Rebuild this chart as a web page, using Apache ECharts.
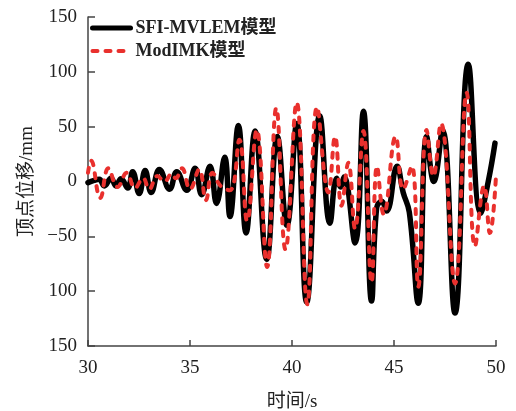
<!DOCTYPE html>
<html>
<head>
    <meta charset="utf-8">
    <title>顶点位移时程</title>
    <script src="https://cdn.jsdelivr.net/npm/echarts@6/dist/echarts.min.js"></script>
    <style>
        html, body { margin: 0; padding: 0; background: #fff; }
        #chart1 { width: 516px; height: 411px; }
    </style>
</head>
<body>
<div id="chart1"></div>
<script type="text/javascript">
    // 时间 (s) 与 顶点位移 (mm)，从原图读取的峰谷点
    let sfiTime = [30.0, 30.3, 30.55, 30.8, 31.13, 31.37, 31.62, 31.95, 32.19, 32.51, 32.8, 33.1, 33.5, 34.0, 34.35, 34.84,
        35.25, 35.57, 35.98, 36.3, 36.7, 36.96, 37.37, 37.75, 38.19, 38.76, 39.28, 39.75, 40.23, 40.72, 41.36, 41.86,
        42.19, 42.38, 42.55, 43.09, 43.5, 43.9, 44.15, 44.4, 44.64, 45.15, 45.45, 45.75, 46.19, 46.6, 46.95, 47.38,
        47.99, 48.64, 49.25, 49.62, 49.95];
    let sfiDisp = [-1, 1, 2, -4, 3, -4, 2.5, -6, 9, -11, 10, -10, 11, -7, 9, -8,
        12, -12, 14, -20, 22, -32, 51, -47, 46, -71, 41, -40, 53, -110, 60, -38,
        3, -5, 4, -56, 64, -109, -24, -18, -27, 14, -10, -28, -111, 41, 0, 47,
        -120, 107, -29, 0, 35];

    let modTime = [30.0, 30.15, 30.6, 31.0, 31.45, 31.9, 32.3, 32.7, 33.0, 33.4, 33.75, 34.1, 34.3, 34.6, 35.0, 35.45,
        35.78, 36.1, 36.5, 36.96, 37.42, 37.8, 38.27, 38.78, 39.23, 39.68, 40.23, 40.75, 41.23, 41.78, 42.11, 42.43,
        42.76, 43.09, 43.5, 43.9, 44.17, 44.5, 45.08, 45.45, 45.87, 46.19, 46.6, 46.93, 47.3, 47.99, 48.56, 48.97,
        49.42, 49.7, 50.0];
    let modDisp = [8, 19, -15, 12, -5, 8, -6, 3, -7, 5, 0, 7, 3, 12, -7, 11,
        -17, 8, -4, -8, 38, -36, 47, -78, 67, -62, 72, -112, 68, -10, 41, -22,
        17, -43, 46, -92, 14, -30, 41, -7, 14, -96, 47, 5, 53, -93, 81, -59,
        -4, -47, 5];

    let xTicks = [30, 35, 40, 45, 50];
    let yTickLabels = {'150': '150', '100': '100', '50': '50', '0': '0', '-50': '−50', '-100': '100', '-150': '150'};

    let serif = "'Liberation Serif', 'Times New Roman', 'Noto Sans CJK SC', serif";

    function pairs(t, v) {
        return t.map(function (x, i) { return [x, v[i]]; });
    }

    let myChart1 = echarts.init(document.getElementById('chart1'));
    myChart1.setOption({
        animation: false,
        grid: {left: 88, right: 20, top: 17, bottom: 65, containLabel: false, outerBoundsMode: 'none'},
        legend: {
            orient: 'vertical',
            left: 90,
            top: 18,
            padding: 0,
            itemWidth: 38,
            itemHeight: 14,
            itemGap: 3,
            itemStyle: {opacity: 0},
            textStyle: {fontFamily: serif, fontSize: 18, fontWeight: 'bold', color: '#222', lineHeight: 20},
            data: [
                {name: 'SFI-MVLEM模型', lineStyle: {width: 5}},
                {name: 'ModIMK模型', lineStyle: {width: 4}}
            ]
        },
        xAxis: {
            type: 'value',
            min: xTicks[0],
            max: xTicks[xTicks.length - 1],
            interval: 5,
            name: '时间/s',
            nameLocation: 'middle',
            nameGap: 47,
            nameTextStyle: {fontFamily: serif, fontSize: 19, color: '#222'},
            axisLine: {onZero: false, lineStyle: {color: '#444', width: 1.5}},
            axisTick: {inside: true, length: 6, lineStyle: {color: '#444', width: 1.5}},
            axisLabel: {fontFamily: serif, fontSize: 19, color: '#222', margin: 13},
            splitLine: {show: false}
        },
        yAxis: {
            type: 'value',
            min: -150,
            max: 150,
            interval: 50,
            name: '顶点位移/mm',
            nameLocation: 'middle',
            nameGap: 50,
            nameTextStyle: {fontFamily: serif, fontSize: 19, color: '#222'},
            axisLine: {show: true, onZero: false, lineStyle: {color: '#444', width: 1.5}},
            axisTick: {show: true, inside: true, length: 7, lineStyle: {color: '#444', width: 1.5}},
            axisLabel: {
                fontFamily: serif, fontSize: 19, color: '#222', margin: 11,
                formatter: function (v) { return yTickLabels[String(v)]; }
            },
            splitLine: {show: false}
        },
        series: [{
            name: 'SFI-MVLEM模型',
            type: 'line',
            data: pairs(sfiTime, sfiDisp),
            showSymbol: false,
            symbol: 'none',
            smooth: 0.45,
            lineStyle: {color: '#000', width: 5.5, join: 'round', cap: 'round'},
            itemStyle: {color: '#000'}
        }, {
            name: 'ModIMK模型',
            type: 'line',
            data: pairs(modTime, modDisp),
            showSymbol: false,
            symbol: 'none',
            smooth: 0.45,
            lineStyle: {color: '#e9302d', width: 4, type: [5, 8], cap: 'round', join: 'round'},
            itemStyle: {color: '#e9302d'}
        }]
    });
</script>
</body>
</html>
